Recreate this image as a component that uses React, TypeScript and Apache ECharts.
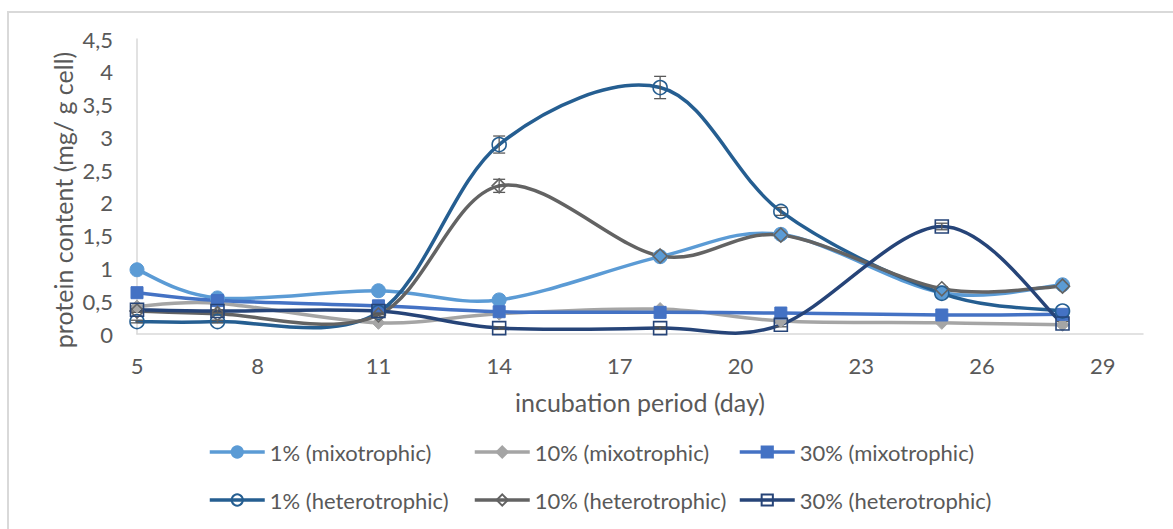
import React, { useEffect, useRef } from "react";
import * as echarts from "echarts";

const days = [5, 7, 11, 14, 18, 21, 25, 28];
const xTicks = [5, 8, 11, 14, 17, 20, 23, 26, 29];

const mixo1 = [0.98, 0.55, 0.66, 0.52, 1.18, 1.52, 0.63, 0.75];
const mixo10 = [0.42, 0.47, 0.17, 0.31, 0.38, 0.2, 0.17, 0.14];
const mixo30 = [0.63, 0.51, 0.43, 0.34, 0.33, 0.32, 0.29, 0.3];
const het1 = [0.19, 0.19, 0.33, 2.89, 3.76, 1.87, 0.62, 0.35];
const het10 = [0.35, 0.31, 0.29, 2.26, 1.19, 1.51, 0.69, 0.73];
const het30 = [0.37, 0.35, 0.35, 0.09, 0.09, 0.14, 1.64, 0.16];

const het1Err = [0.02, 0.02, 0.03, 0.13, 0.17, 0.06, 0.02, 0.02];
const het10Err = [0.02, 0.02, 0.02, 0.1, 0.04, 0.05, 0.03, 0.02];
const het30Err = [0.02, 0.02, 0.02, 0.02, 0.02, 0.03, 0.05, 0.03];

const names = [
  "1% (mixotrophic)",
  "10% (mixotrophic)",
  "30% (mixotrophic)",
  "1% (heterotrophic)",
  "10% (heterotrophic)",
  "30% (heterotrophic)",
];

const FONT = "Lato";
const TXT = "#595959";
const CLEAR = "rgba(255,255,255,0)";
const LW = 3.5;

function pts(vals: number[]) {
  return days.map((d, i) => [d, vals[i]]);
}

// Excel-like smoothed curve: one cubic Bezier per segment (Catmull-Rom, 1/6 tension)
function curveSeries(vals: number[], color: string) {
  const n = days.length;
  return {
    type: "custom",
    data: pts(vals),
    encode: { x: 0, y: 1 },
    silent: true,
    renderItem: (params: any, api: any) => {
      const i = params.dataIndex;
      if (i >= n - 1) return null;
      const c = (k: number) => {
        const kk = Math.max(0, Math.min(n - 1, k));
        return api.coord([days[kk], vals[kk]]);
      };
      const p0 = c(i - 1);
      const p1 = c(i);
      const p2 = c(i + 1);
      const p3 = c(i + 2);
      return {
        type: "bezierCurve",
        shape: {
          x1: p1[0],
          y1: p1[1],
          cpx1: p1[0] + (p2[0] - p0[0]) / 6,
          cpy1: p1[1] + (p2[1] - p0[1]) / 6,
          cpx2: p2[0] - (p3[0] - p1[0]) / 6,
          cpy2: p2[1] - (p3[1] - p1[1]) / 6,
          x2: p2[0],
          y2: p2[1],
        },
        style: { stroke: color, lineWidth: LW, fill: "none", lineCap: "round" },
      };
    },
  };
}

function markSeries(name: string, vals: number[], color: string, symbol: string, size: number, open: boolean) {
  return {
    name,
    type: "line",
    data: pts(vals),
    symbol,
    symbolSize: size,
    showAllSymbol: true,
    lineStyle: { color, width: LW, opacity: 0 },
    itemStyle: open
      ? { color: CLEAR, borderColor: color, borderWidth: 1.6 }
      : { color, borderColor: color, borderWidth: 1 },
    emphasis: { disabled: true },
  };
}

function errSeries(vals: number[], errs: number[]) {
  return {
    type: "custom",
    data: days.map((d, i) => [d, vals[i], errs[i]]),
    encode: { x: 0, y: 1 },
    silent: true,
    renderItem: (params: any, api: any) => {
      const x = api.value(0);
      const y = api.value(1);
      const e = api.value(2);
      const top = api.coord([x, y + e]);
      const bot = api.coord([x, y - e]);
      const hw = 6;
      const st = { stroke: "#595959", lineWidth: 1.3 };
      return {
        type: "group",
        children: [
          { type: "line", shape: { x1: top[0], y1: top[1], x2: bot[0], y2: bot[1] }, style: st },
          { type: "line", shape: { x1: top[0] - hw, y1: top[1], x2: top[0] + hw, y2: top[1] }, style: st },
          { type: "line", shape: { x1: bot[0] - hw, y1: bot[1], x2: bot[0] + hw, y2: bot[1] }, style: st },
        ],
      };
    },
  };
}

function legendCol(left: number, items: string[]) {
  return {
    orient: "vertical",
    left,
    top: 436,
    itemWidth: 55,
    itemHeight: 14,
    itemGap: 26,
    data: items,
    lineStyle: { width: LW, opacity: 1 },
    textStyle: { color: TXT, fontFamily: FONT, fontSize: 22 },
    selectedMode: false,
  };
}

export default function App() {
  const ref = useRef<HTMLDivElement>(null);

  useEffect(() => {
    document.body.style.margin = "0";
    const chart = echarts.init(ref.current!, null, { renderer: "svg" });
    const option: any = {
      animation: false,
      backgroundColor: "#ffffff",
      textStyle: { fontFamily: FONT },
      grid: { left: 137, top: 39, right: 30, bottom: 195, containLabel: false },
      xAxis: {
        type: "value",
        min: 5,
        max: 30,
        name: "incubation period (day)",
        nameLocation: "middle",
        nameGap: 55,
        nameTextStyle: { color: TXT, fontFamily: FONT, fontSize: 25 },
        axisLine: { show: true, onZero: false, lineStyle: { color: "#d9d9d9", width: 1.5 } },
        axisTick: { show: false },
        splitLine: { show: false },
        axisLabel: {
          customValues: xTicks,
          color: TXT,
          fontFamily: FONT,
          fontSize: 22,
          margin: 20,
        },
      },
      yAxis: {
        type: "value",
        min: 0,
        max: 4.5,
        interval: 0.5,
        axisLine: { show: true, lineStyle: { color: "#d9d9d9", width: 1.5 } },
        axisTick: { show: false },
        splitLine: { show: false },
        axisLabel: {
          color: TXT,
          fontFamily: FONT,
          fontSize: 22,
          margin: 24,
          formatter: (v: number) => String(v).replace(".", ","),
        },
      },
      legend: [
        legendCol(203, [names[0], names[3]]),
        legendCol(468, [names[1], names[4]]),
        legendCol(733, [names[2], names[5]]),
      ],
      graphic: [
        {
          type: "rect",
          shape: { x: 8, y: 12, width: 1300, height: 700 },
          style: { fill: "none", stroke: "#d9d9d9", lineWidth: 2 },
          silent: true,
          z: -10,
        },
        {
          type: "text",
          x: 63,
          y: 200,
          rotation: Math.PI / 2,
          style: {
            text: "protein content (mg/ g cell)",
            fill: TXT,
            font: `25px ${FONT}`,
            align: "center",
            verticalAlign: "middle",
          },
          silent: true,
        },
      ],
      series: [
        curveSeries(mixo1, "#5B9BD5"),
        markSeries(names[0], mixo1, "#5B9BD5", "circle", 14, false),
        curveSeries(mixo10, "#A5A5A5"),
        markSeries(names[1], mixo10, "#A5A5A5", "diamond", 13, false),
        curveSeries(mixo30, "#4472C4"),
        markSeries(names[2], mixo30, "#4472C4", "rect", 12, false),
        curveSeries(het1, "#255E91"),
        markSeries(names[3], het1, "#255E91", "circle", 14, true),
        errSeries(het1, het1Err),
        curveSeries(het10, "#636363"),
        markSeries(names[4], het10, "#636363", "diamond", 14, true),
        errSeries(het10, het10Err),
        curveSeries(het30, "#264478"),
        markSeries(names[5], het30, "#264478", "rect", 13, true),
        errSeries(het30, het30Err),
      ],
    };
    chart.setOption(option);
    return () => chart.dispose();
  }, []);

  return <div ref={ref} style={{ width: 1173, height: 529 }} />;
}
